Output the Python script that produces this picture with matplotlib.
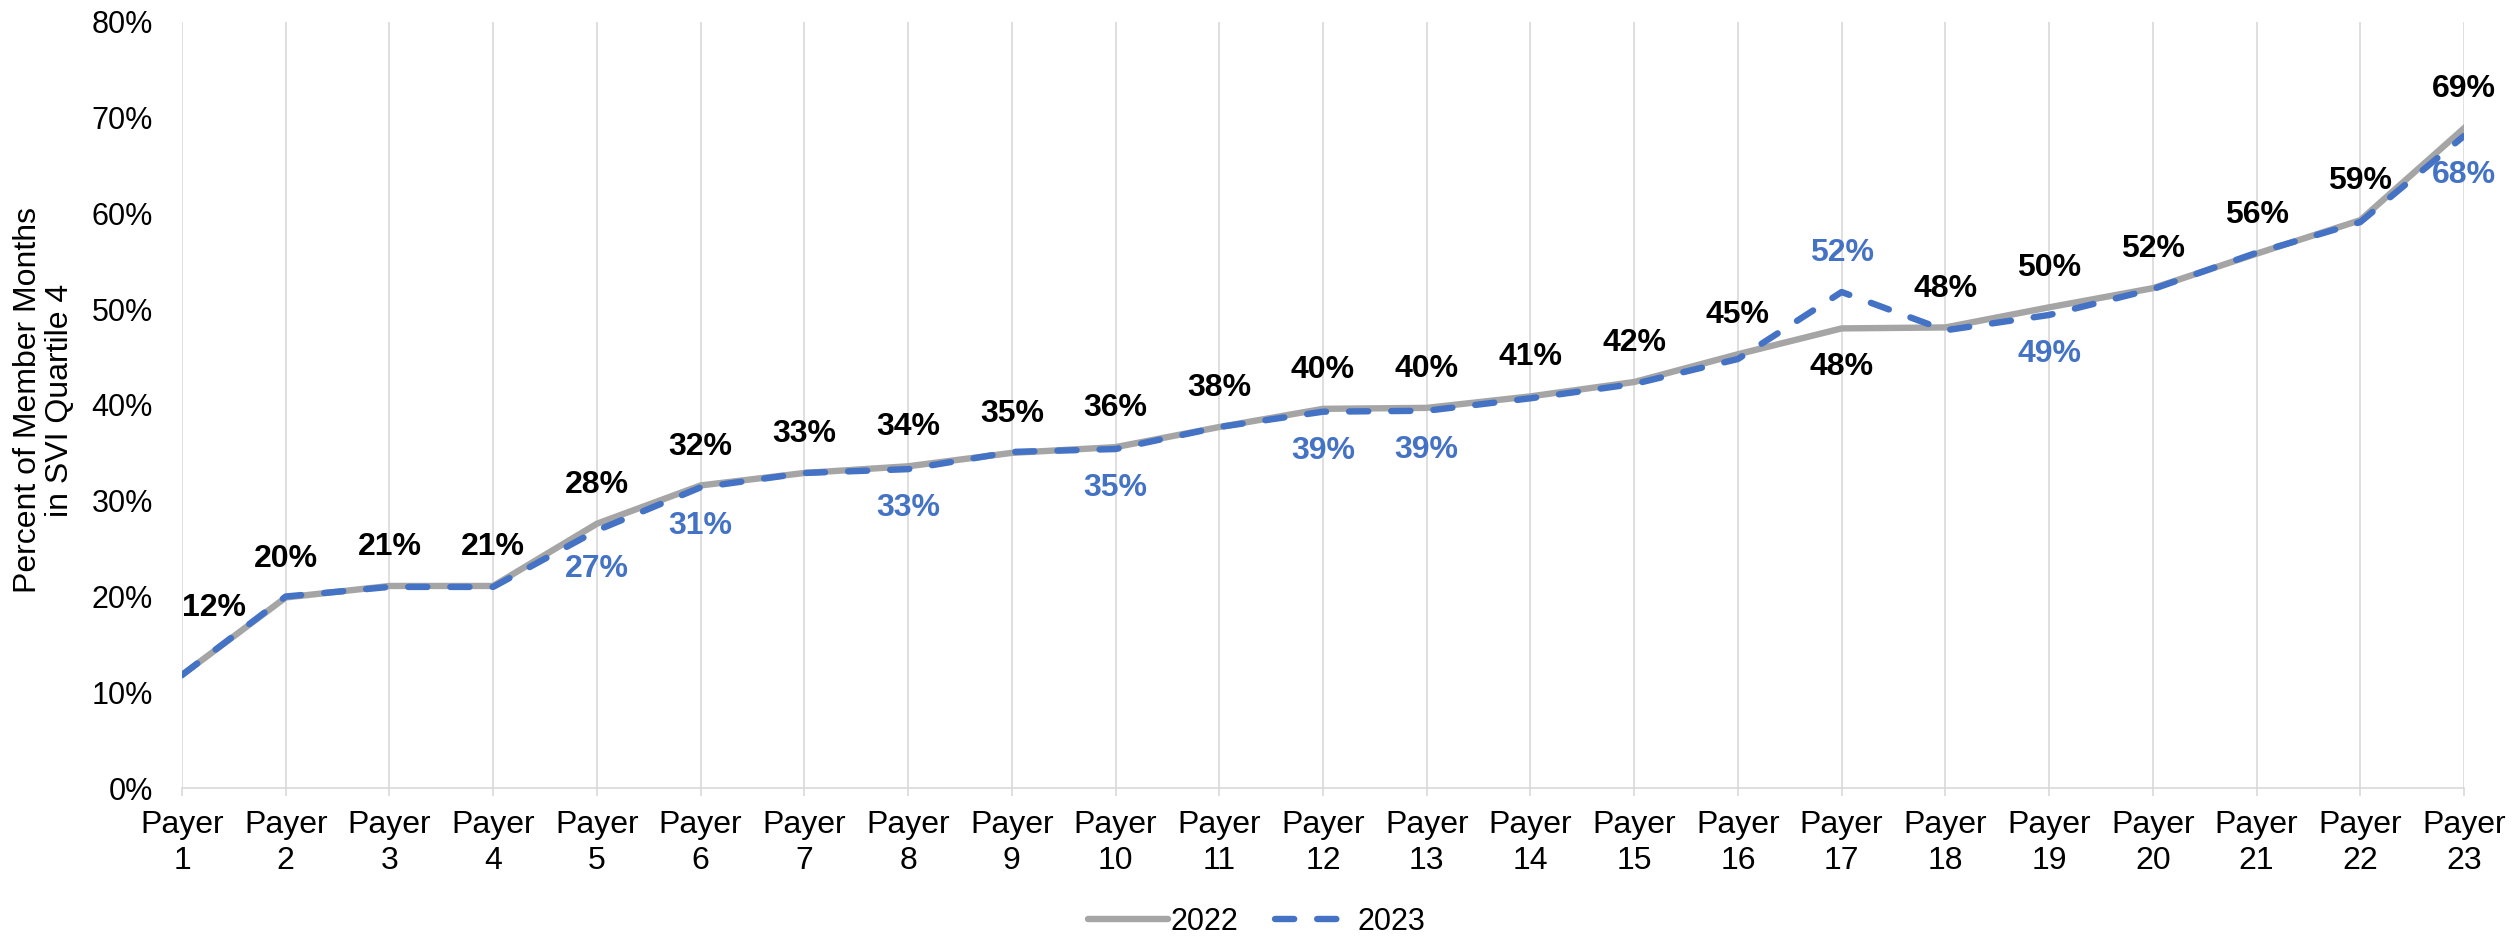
import matplotlib
matplotlib.use("Agg")
import matplotlib.pyplot as plt
from matplotlib.lines import Line2D

plt.rcParams['font.family'] = ['Liberation Sans', 'DejaVu Sans']

payers = [f"Payer\n{i}" for i in range(1, 24)]
share_2022 = [11.8, 19.9, 21.1, 21.1, 27.6, 31.6, 32.9, 33.6, 35.0, 35.6, 37.7, 39.6,
              39.7, 40.9, 42.4, 45.3, 48.0, 48.1, 50.2, 52.2, 55.8, 59.3, 68.9]
share_2023 = [11.8, 20.0, 21.0, 21.0, 26.9, 31.4, 32.9, 33.3, 35.1, 35.4, 37.7, 39.3,
              39.4, 40.7, 42.2, 44.8, 51.8, 47.8, 49.4, 52.1, 55.9, 59.1, 68.1]
yticks = [0, 10, 20, 30, 40, 50, 60, 70, 80]

GRAY = "#A5A5A5"
BLUE = "#4472C4"
GRID = "#D9D9D9"
FS = 22

fig = plt.figure(figsize=(25.14, 9.38), dpi=100)
ax = fig.add_axes([182 / 2514, 1 - 788 / 938, (2464 - 182) / 2514, (788 - 22) / 938])

x = list(range(len(payers)))
ax.plot(x, share_2022, color=GRAY, lw=4.6, solid_joinstyle='round', zorder=3)
ax.plot(x, share_2023, color=BLUE, lw=4.6, linestyle=(0, (3.0, 3.6)),
        dash_capstyle='round', solid_joinstyle='round', zorder=4)

ax.set_xlim(0, len(payers) - 1)
ax.set_ylim(0, 80)
ax.set_xticks(x)
ax.set_xticklabels(payers, fontsize=23, linespacing=1.25)
ax.set_yticks(yticks)
ax.set_yticklabels([f"{v}%" for v in yticks], fontsize=FS)
ax.tick_params(axis='y', length=0, pad=21)
ax.tick_params(axis='x', length=6, width=1.2, color=GRID, pad=10)

ax.grid(axis='x', color=GRID, lw=1.2, zorder=0)
for side in ('top', 'right', 'left'):
    ax.spines[side].set_visible(False)
ax.spines['bottom'].set_color(GRID)
ax.spines['bottom'].set_linewidth(1.2)

off = 28  # label offset in points
for i, (a, b) in enumerate(zip(share_2022, share_2023)):
    show_b = round(a) != round(b)
    a_above = not (show_b and b > a)
    ha = 'left' if i == 0 else 'center'
    dy_a = off if a_above else -off
    if i == 0:
        dy_a = off + 20
    ax.annotate(f"{round(a)}%", (i, a), xytext=(0, dy_a),
                textcoords='offset points', ha=ha, va='center',
                fontsize=23, fontweight='bold', color='black', zorder=5,
                annotation_clip=False)
    if show_b:
        dy_b = off if not a_above else -off
        ax.annotate(f"{round(b)}%", (i, b), xytext=(0, dy_b),
                    textcoords='offset points', ha='center', va='center',
                    fontsize=23, fontweight='bold', color=BLUE, zorder=5,
                    annotation_clip=False)

fig.text(44 / 2514, 1 - 400 / 938, "Percent of Member Months\nin SVI Quartile 4",
         rotation=90, ha='center', va='center', fontsize=23, linespacing=1.1)

handles = [Line2D([], [], color=GRAY, lw=4.6, solid_capstyle='round'),
           Line2D([], [], color=BLUE, lw=4.6, linestyle=(0, (3.0, 3.6)),
                  dash_capstyle='round')]
fig.legend(handles, ["2022", "2023"], loc='center', bbox_to_anchor=(0.5, 1 - 922 / 938),
           ncol=2, frameon=False, handlelength=2.6, handletextpad=0.1,
           columnspacing=1.2, prop={'size': 22})

fig.savefig("out.png", dpi=100)
